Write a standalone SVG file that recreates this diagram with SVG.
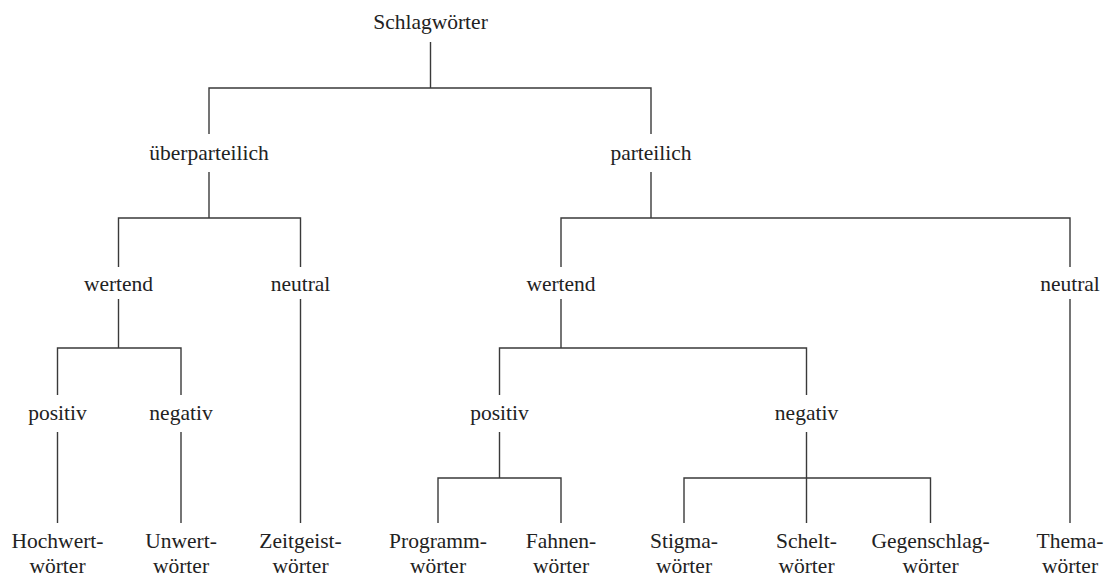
<svg xmlns="http://www.w3.org/2000/svg" width="1113" height="577" viewBox="0 0 1113 577">
<style>
text{font-family:"Liberation Serif","DejaVu Serif",serif;font-size:21.5px;fill:#222;text-anchor:middle}
.c line,.c path{stroke:#3a3a3a;stroke-width:1.4;fill:none}
</style>
<rect width="1113" height="577" fill="#fff"/>
<g class="c" id="connectors">
<line x1="430.5" y1="42" x2="430.5" y2="88"/>
<path d="M209 134V88H651V134"/>
<line x1="209" y1="172" x2="209" y2="218"/>
<path d="M118.5 267V218H300.5V267"/>
<line x1="651" y1="172" x2="651" y2="218"/>
<path d="M561 267V218H1070V267"/>
<line x1="118.5" y1="299" x2="118.5" y2="348"/>
<path d="M57.5 395V348H181V395"/>
<line x1="57.5" y1="432" x2="57.5" y2="523"/>
<line x1="181" y1="432" x2="181" y2="523"/>
<line x1="300.5" y1="299" x2="300.5" y2="523"/>
<line x1="561" y1="299" x2="561" y2="348"/>
<path d="M499.5 395V348H806.5V395"/>
<line x1="499.5" y1="432" x2="499.5" y2="478"/>
<path d="M438 523V478H561V523"/>
<line x1="806.5" y1="432" x2="806.5" y2="523"/>
<path d="M684 523V478H930.5V523"/>
<line x1="1070" y1="299" x2="1070" y2="523"/>
</g>
<g id="n-schlagwoerter"><text x="430.5" y="29">Schlagwörter</text></g>
<g id="n-ueberparteilich"><text x="209" y="160">überparteilich</text></g>
<g id="n-parteilich"><text x="651" y="160">parteilich</text></g>
<g id="n-ue-wertend"><text x="118.5" y="291">wertend</text></g>
<g id="n-ue-neutral"><text x="300.5" y="291">neutral</text></g>
<g id="n-p-wertend"><text x="561" y="291">wertend</text></g>
<g id="n-p-neutral"><text x="1070" y="291">neutral</text></g>
<g id="n-ue-positiv"><text x="57.5" y="420">positiv</text></g>
<g id="n-ue-negativ"><text x="181" y="420">negativ</text></g>
<g id="n-p-positiv"><text x="499.5" y="420">positiv</text></g>
<g id="n-p-negativ"><text x="806.5" y="420">negativ</text></g>
<g id="n-hochwert"><text x="57.5" y="548">Hochwert-</text><text x="57.5" y="573">wörter</text></g>
<g id="n-unwert"><text x="181" y="548">Unwert-</text><text x="181" y="573">wörter</text></g>
<g id="n-zeitgeist"><text x="300.5" y="548">Zeitgeist-</text><text x="300.5" y="573">wörter</text></g>
<g id="n-programm"><text x="438" y="548">Programm-</text><text x="438" y="573">wörter</text></g>
<g id="n-fahnen"><text x="561" y="548">Fahnen-</text><text x="561" y="573">wörter</text></g>
<g id="n-stigma"><text x="684" y="548">Stigma-</text><text x="684" y="573">wörter</text></g>
<g id="n-schelt"><text x="806.5" y="548">Schelt-</text><text x="806.5" y="573">wörter</text></g>
<g id="n-gegenschlag"><text x="930.5" y="548">Gegenschlag-</text><text x="930.5" y="573">wörter</text></g>
<g id="n-thema"><text x="1070" y="548">Thema-</text><text x="1070" y="573">wörter</text></g>
</svg>
